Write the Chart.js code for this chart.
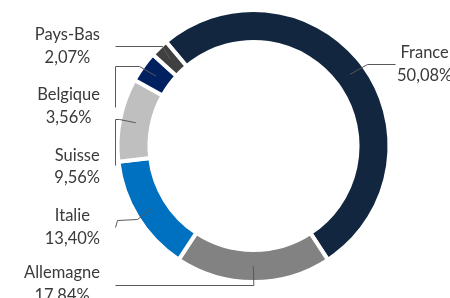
<!DOCTYPE html>
<html>
<head>
<meta charset="utf-8">
<script src="https://cdn.jsdelivr.net/npm/chart.js@4"></script>
<style>
  html, body { margin: 0; padding: 0; background: #fff; }
  canvas { display: block; }
</style>
</head>
<body>
<canvas id="myChart" width="450" height="298"></canvas>
<script>
// data
const categories = ['France', 'Allemagne', 'Italie', 'Suisse', 'Belgique', 'Pays-Bas'];
const shares = [50.08, 17.84, 13.40, 9.56, 3.56, 2.07];

// style
const sliceColors = ['#12263f', '#828282', '#0070c0', '#bfbfbf', '#002060', '#404040'];
const textColor = '#3a3a3a';
const leaderColor = '#595959';
const labelFont = '16.5px Lato';
const lineGap = 22.7;

// label layout: side, first baseline, leader waypoints (null = take anchor value)
const labelLayout = [
  { side: 'right', edge: 397, base: 58.3, path: [[395, 64], [367, 64]] },
  { side: 'left', edge: 100, base: 278.3, path: [[115, 285], [null, 285]] },
  { side: 'left', edge: 100, base: 221, path: [[115, 227], [117, 220], [137, 219]] },
  { side: 'left', edge: 100, base: 160.7, path: [[115, 165], [115, 119], [119, 119]] },
  { side: 'left', edge: 100, base: 100, path: [[115, 107], [115, 66], [139, 66]] },
  { side: 'left', edge: 100, base: 40, path: [[115, 46], [162, 46]] }
];

function pct(v) {
  return v.toFixed(2).replace('.', ',') + '%';
}

const outsideLabels = {
  id: 'outsideLabels',
  afterDatasetsDraw(chart) {
    const ctx = chart.ctx;
    const arcs = chart.getDatasetMeta(0).data;
    ctx.save();
    arcs.forEach((arc, i) => {
      const p = arc.getProps(['x', 'y', 'startAngle', 'endAngle', 'innerRadius', 'outerRadius'], true);
      const mid = (p.startAngle + p.endAngle) / 2;
      const r = (p.innerRadius + p.outerRadius) / 2;
      const ax = p.x + Math.cos(mid) * r;
      const ay = p.y + Math.sin(mid) * r;
      const lay = labelLayout[i];

      // leader line
      ctx.strokeStyle = leaderColor;
      ctx.lineWidth = 1;
      ctx.beginPath();
      lay.path.forEach((pt, k) => {
        const px = (pt[0] === null ? ax : pt[0]) + 0.5;
        const py = (pt[1] === null ? ay : pt[1]) + 0.5;
        if (k === 0) ctx.moveTo(px, py); else ctx.lineTo(px, py);
      });
      ctx.lineTo(ax, ay);
      ctx.stroke();

      // text
      ctx.font = labelFont;
      ctx.fillStyle = textColor;
      ctx.textAlign = 'center';
      ctx.textBaseline = 'alphabetic';
      const lines = [categories[i], pct(shares[i])];
      const w = Math.max(...lines.map(t => ctx.measureText(t).width));
      const cx = lay.side === 'left' ? lay.edge - w / 2 : lay.edge + w / 2;
      lines.forEach((t, k) => ctx.fillText(t, cx, lay.base + k * lineGap));
    });
    ctx.restore();
  }
};

new Chart(document.getElementById('myChart'), {
  type: 'doughnut',
  data: {
    labels: categories,
    datasets: [{
      data: shares,
      backgroundColor: sliceColors,
      borderColor: '#ffffff',
      borderWidth: 4
    }]
  },
  options: {
    responsive: false,
    animation: false,
    devicePixelRatio: 1,
    rotation: -40,
    cutout: '76.5%',
    layout: { padding: { left: 115.5, right: 58.5, top: 8, bottom: 14 } },
    plugins: {
      legend: { display: false },
      tooltip: { enabled: false }
    }
  },
  plugins: [outsideLabels]
});
</script>
</body>
</html>
